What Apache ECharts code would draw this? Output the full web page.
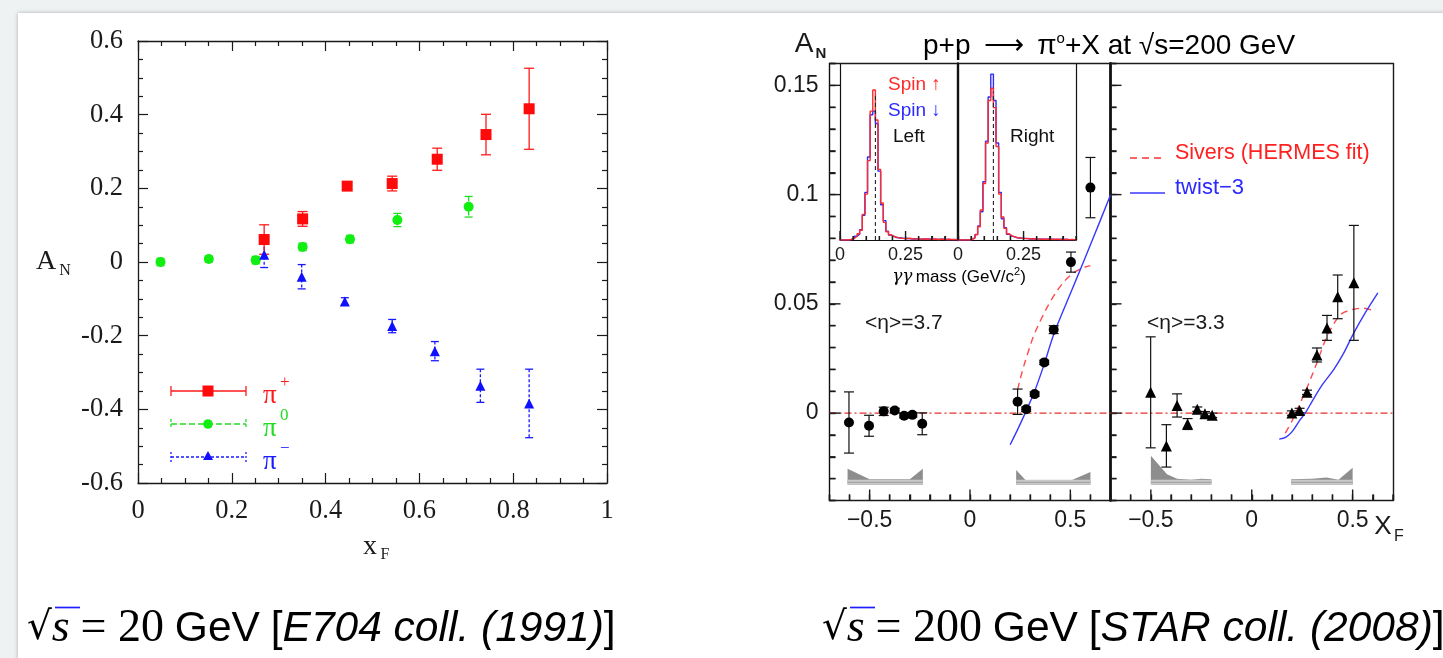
<!DOCTYPE html>
<html>
<head>
<meta charset="utf-8">
<script src="https://cdn.jsdelivr.net/npm/echarts@6/dist/echarts.min.js"></script>
<style>
  html, body { margin: 0; padding: 0; background: #eef2f2; }
  #chart { width: 1443px; height: 658px; }
</style>
</head>
<body>
<div id="chart"></div>
<script>
// ---------- E704, sqrt(s) = 20 GeV : A_N vs x_F ----------
const piPlusXF   = [0.269, 0.351, 0.446, 0.542, 0.638, 0.742, 0.834];
const piPlusAN   = [0.061, 0.117, 0.206, 0.213, 0.279, 0.346, 0.416];
const piPlusErr  = [0.040, 0.020, 0.010, 0.020, 0.030, 0.055, 0.110];

const pi0XF      = [0.048, 0.151, 0.251, 0.351, 0.452, 0.553, 0.705];
const pi0AN      = [0.000, 0.008, 0.005, 0.041, 0.062, 0.114, 0.150];
const pi0Err     = [0.010, 0.008, 0.010, 0.010, 0.010, 0.018, 0.028];

const piMinusXF  = [0.269, 0.349, 0.441, 0.542, 0.633, 0.730, 0.834];
const piMinusAN  = [0.020, -0.040, -0.107, -0.174, -0.242, -0.336, -0.384];
const piMinusErr = [0.035, 0.033, 0.010, 0.018, 0.026, 0.045, 0.093];

// ---------- STAR, sqrt(s) = 200 GeV : pi0 A_N vs x_F ----------
const eta37XF  = [-0.603, -0.503, -0.430, -0.375, -0.328, -0.287, -0.238, 0.237, 0.280, 0.322, 0.370, 0.417, 0.503, 0.600];
const eta37AN  = [-0.0043, -0.0058, 0.0008, 0.0012, -0.0012, -0.0008, -0.0049, 0.0052, 0.0018, 0.0087, 0.0232, 0.0382, 0.0691, 0.1032];
const eta37Err = [0.0140, 0.0048, 0.0019, 0.0010, 0.0010, 0.0010, 0.0050, 0.0058, 0.0010, 0.0010, 0.0010, 0.0018, 0.0046, 0.0138];

const eta33XF  = [-0.501, -0.423, -0.370, -0.318, -0.270, -0.232, -0.196, 0.199, 0.237, 0.274, 0.323, 0.373, 0.426, 0.506];
const eta33AN  = [0.0095, -0.0150, 0.0035, -0.0050, 0.0018, -0.0003, -0.0010, 0.0000, 0.0012, 0.0095, 0.0266, 0.0390, 0.0532, 0.0596];
const eta33Err = [0.0254, 0.0097, 0.0053, 0.0025, 0.0010, 0.0010, 0.0010, 0.0010, 0.0010, 0.0010, 0.0032, 0.0057, 0.0100, 0.0263];

// model curves
const sivers37X = [0.237, 0.26, 0.29, 0.32, 0.36, 0.40, 0.45, 0.50, 0.55, 0.60];
const sivers37Y = [0.0107, 0.019, 0.028, 0.036, 0.044, 0.051, 0.058, 0.063, 0.066, 0.0675];
const twist37X  = [0.20, 0.24, 0.275, 0.32, 0.37, 0.417, 0.483, 0.533, 0.60, 0.70];
const twist37Y  = [-0.0145, -0.007, 0.0, 0.0095, 0.0225, 0.036, 0.051, 0.062, 0.077, 0.0998];
const sivers33X = [0.166, 0.20, 0.24, 0.28, 0.323, 0.373, 0.44, 0.50, 0.556, 0.605];
const sivers33Y = [-0.0092, -0.0035, 0.0046, 0.013, 0.023, 0.035, 0.045, 0.0474, 0.048, 0.0467];
const twist33X  = [0.136, 0.17, 0.20, 0.24, 0.265, 0.30, 0.35, 0.406, 0.45, 0.506, 0.56, 0.625];
const twist33Y  = [-0.0119, -0.0110, -0.0085, -0.003, 0.0, 0.0055, 0.0130, 0.0199, 0.0265, 0.0367, 0.0455, 0.055];

// systematic-uncertainty bands (upper edge; common lower edge)
const bandBase   = -0.0328;
const bandStrip  = -0.0305;
const band37LX   = [-0.61, -0.50, -0.30, -0.235];
const band37LTop = [-0.0255, -0.0303, -0.0303, -0.0255];
const band37RX   = [0.23, 0.28, 0.50, 0.60];
const band37RTop = [-0.0260, -0.0310, -0.0310, -0.0270];
const band33LX   = [-0.50, -0.42, -0.37, -0.30, -0.25, -0.20];
const band33LTop = [-0.0195, -0.0280, -0.0300, -0.0305, -0.0300, -0.0303];
const band33RX   = [0.195, 0.30, 0.37, 0.43, 0.50];
const band33RTop = [-0.0303, -0.0300, -0.0295, -0.0305, -0.0250];

// two-photon invariant mass spectra (relative counts, 0.01 GeV bins from 0.005)
const massBinLow   = 0.005;
const massBinWidth = 0.01;
const pi0Mass      = 0.135;
const leftSpinUp   = [0, 0, 0, 0.004, 0.010, 0.020, 0.035, 0.055, 0.145, 0.26, 0.45, 0.73, 0.85, 0.68, 0.40, 0.21, 0.10, 0.047, 0.030, 0.020,
                      0.016, 0.012, 0.010, 0.009, 0.008, 0.010, 0.007, 0.006, 0.008, 0.005, 0.006, 0.004, 0.007, 0.005, 0.004, 0.006, 0.003, 0.004, 0.005, 0.003,
                      0.004, 0.003, 0.002, 0.003];
const leftSpinDown = [0, 0, 0, 0.003, 0.009, 0.022, 0.033, 0.058, 0.14, 0.27, 0.47, 0.71, 0.73, 0.66, 0.39, 0.20, 0.11, 0.050, 0.028, 0.022,
                      0.014, 0.013, 0.012, 0.008, 0.010, 0.008, 0.006, 0.007, 0.006, 0.005, 0.004, 0.006, 0.005, 0.004, 0.005, 0.004, 0.003, 0.004, 0.004, 0.003,
                      0.003, 0.002, 0.003, 0.002];
const rightSpinUp  = [0, 0, 0, 0, 0.004, 0.012, 0.030, 0.075, 0.17, 0.32, 0.55, 0.79, 0.86, 0.75, 0.53, 0.26, 0.13, 0.066, 0.035, 0.025,
                      0.018, 0.014, 0.012, 0.010, 0.008, 0.009, 0.007, 0.006, 0.007, 0.005, 0.006, 0.004, 0.005, 0.004, 0.005, 0.003, 0.004, 0.004, 0.003, 0.003,
                      0.004, 0.002, 0.003, 0.002];
const rightSpinDown= [0, 0, 0, 0, 0.005, 0.014, 0.032, 0.080, 0.16, 0.33, 0.56, 0.81, 0.94, 0.79, 0.55, 0.27, 0.12, 0.070, 0.033, 0.022,
                      0.019, 0.013, 0.011, 0.009, 0.009, 0.008, 0.006, 0.007, 0.006, 0.005, 0.005, 0.005, 0.004, 0.004, 0.004, 0.004, 0.003, 0.003, 0.004, 0.003,
                      0.003, 0.002, 0.002, 0.002];

// tick positions and labelled ticks
const starXTicks      = [-0.7, -0.6, -0.5, -0.4, -0.3, -0.2, -0.1, 0, 0.1, 0.2, 0.3, 0.4, 0.5, 0.6, 0.7];
const starXTickLabels = [-0.5, 0, 0.5];
const starYTicks      = [-0.04, -0.03, -0.02, -0.01, 0, 0.01, 0.02, 0.03, 0.04, 0.05, 0.06, 0.07, 0.08, 0.09, 0.10, 0.11, 0.12, 0.13, 0.14, 0.15, 0.16];
const starYTickLabels = [0, 0.05, 0.1, 0.15];
const massTicks       = [0, 0.05, 0.10, 0.15, 0.20, 0.25, 0.30, 0.35, 0.40, 0.45];
const massTickLabels  = [0, 0.25];

// ---------- styling ----------
const BLUE = '#1f1fff', TEAL = '#0f8a74';
const SERIF = 'Liberation Serif', SANS = 'Liberation Sans';
const INK = '#1a1a1a', STAR_INK = '#1a1a1a';

const chart = echarts.init(document.getElementById('chart'), null, { renderer: 'canvas' });

const grids = [
  { left: 138,   top: 41,   width: 469,   height: 442 },   // 0 : E704
  { left: 829.5, top: 63.5, width: 281,   height: 437 },   // 1 : STAR <eta>=3.7
  { left: 1110.5,top: 63.5, width: 282.5, height: 437 },   // 2 : STAR <eta>=3.3
  { left: 840,   top: 63.5, width: 118,   height: 176.5 }, // 3 : mass inset, Left
  { left: 958,   top: 63.5, width: 118,   height: 176.5 }  // 4 : mass inset, Right
].map(g => Object.assign({ outerBoundsMode: 'none', containLabel: false }, g));

const xAxes = [], yAxes = [];
function addX(a) { xAxes.push(Object.assign({ type: 'value', splitLine: { show: false }, minorSplitLine: { show: false } }, a)); return xAxes.length - 1; }
function addY(a) { yAxes.push(Object.assign({ type: 'value', splitLine: { show: false }, minorSplitLine: { show: false } }, a)); return yAxes.length - 1; }

// label only the listed values
function only(values, fmt) {
  return v => values.some(u => Math.abs(u - v) < 1e-9) ? (fmt ? fmt(v) : String(v)) : '';
}
const minus = v => String(v).replace('-', '\u2212');
function frameLine(width, color) { return { show: true, onZero: false, lineStyle: { color: color || STAR_INK, width } }; }

// E704 frame: ticks on all four sides, pointing in
function e704Axis(pos, labels, isX) {
  const a = {
    gridIndex: 0, position: pos,
    min: isX ? 0 : -0.6, max: isX ? 1 : 0.6, interval: 0.2,
    axisLine: frameLine(1.3, INK),
    axisTick: { show: true, inside: true, length: 10, lineStyle: { color: INK, width: 1.2 } },
    minorTick: { show: true, splitNumber: 4, length: 5, lineStyle: { color: INK, width: 1.2 } },
    axisLabel: labels ? { show: true, margin: 15, fontFamily: SERIF, fontSize: 26.5, color: INK } : { show: false }
  };
  return isX ? addX(a) : addY(a);
}
const xE = e704Axis('bottom', true, true);
e704Axis('top', false, true);
const yE = e704Axis('left', true, false);
e704Axis('right', false, false);

// STAR panels: y ticks every 0.01 and x ticks every 0.1, pointing in; minor ticks shorter
function starX(g) {
  const ix = addX({
    gridIndex: g, position: 'bottom', min: -0.7, max: 0.7, interval: 0.1,
    axisLine: frameLine(1.4),
    axisTick: { show: true, inside: true, length: 6, lineStyle: { color: STAR_INK, width: 1.4 } },
    axisLabel: { show: true, margin: 9, fontFamily: SANS, fontSize: 23, color: STAR_INK, formatter: only(starXTickLabels, minus) }
  });
  addX({ gridIndex: g, position: 'top', min: -0.7, max: 0.7, axisLine: frameLine(1.4), axisTick: { show: false }, axisLabel: { show: false } });
  return ix;
}
function starY(g, labels, leftWidth, rightWidth) {
  const iy = addY({
    gridIndex: g, position: 'left', min: -0.04, max: 0.16, interval: 0.01,
    axisLine: frameLine(leftWidth, '#111'),
    axisTick: { show: true, inside: true, length: 6, lineStyle: { color: STAR_INK, width: 1.4 } },
    axisLabel: labels ? { show: true, margin: 11, fontFamily: SANS, fontSize: 23, color: STAR_INK, formatter: only(starYTickLabels) } : { show: false }
  });
  if (rightWidth > 0) {
    addY({ gridIndex: g, position: 'right', min: -0.04, max: 0.16, axisLine: frameLine(rightWidth), axisTick: { show: false }, axisLabel: { show: false } });
  }
  return iy;
}
const xL = starX(1), yL = starY(1, true, 1.4, 0);
const xR = starX(2), yR = starY(2, false, 2.8, 1.4);

// invariant-mass insets
function massX(g) {
  return addX({
    gridIndex: g, position: 'bottom', min: 0, max: 0.45, interval: 0.05,
    axisLine: frameLine(1.2, '#111'),
    axisTick: { show: true, inside: true, length: 4, lineStyle: { color: STAR_INK, width: 1.2 } },
    axisLabel: { show: true, margin: 6, fontFamily: SANS, fontSize: 18, color: STAR_INK, formatter: only(massTickLabels) }
  });
}
function massY(g, leftWidth, rightWidth) {
  const iy = addY({
    gridIndex: g, position: 'left', min: 0, max: 1,
    axisLine: leftWidth > 0 ? frameLine(leftWidth, '#111') : { show: false, onZero: false },
    axisTick: { show: false }, axisLabel: { show: false }
  });
  addY({ gridIndex: g, position: 'right', min: 0, max: 1, axisLine: frameLine(rightWidth, '#111'), axisTick: { show: false }, axisLabel: { show: false } });
  return iy;
}
const xML = massX(3), yML = massY(3, 1.2, 2.4);
const xMR = massX(4), yMR = massY(4, 0, 1.2);

// ---------- series builders ----------
function zip(xs, ys) { return xs.map((x, i) => [x, ys[i]]); }
const isMajor = (arr, v) => arr.some(u => Math.abs(u - v) < 1e-9);

// frame ticks of one panel, drawn as one group anchored inside the panel
function frameTicks(xi, yi, anchor, leftEdge, yTicks, yMajor, bottomEdge, xTicks, xMajor, minorLen, majorLen) {
  return {
    type: 'custom', xAxisIndex: xi, yAxisIndex: yi, silent: true, z: 6, clip: false,
    data: [anchor],
    encode: { x: 0, y: 1 },
    renderItem(params, api) {
      const children = [];
      (yTicks || []).forEach(v => {
        const p = api.coord([leftEdge, v]);
        const len = isMajor(yMajor, v) ? majorLen : minorLen;
        children.push({ type: 'line', shape: { x1: p[0], y1: p[1], x2: p[0] + len, y2: p[1] },
                        style: { stroke: STAR_INK, lineWidth: 1.4, fill: null } });
      });
      (xTicks || []).forEach(v => {
        const p = api.coord([v, bottomEdge]);
        const len = isMajor(xMajor, v) ? majorLen : minorLen;
        children.push({ type: 'line', shape: { x1: p[0], y1: p[1], x2: p[0], y2: p[1] - len },
                        style: { stroke: STAR_INK, lineWidth: 1.4, fill: null } });
      });
      return { type: 'group', children };
    }
  };
}
function errorBars(xi, yi, xs, ys, es, color, width, cap, dash) {
  return {
    type: 'custom', xAxisIndex: xi, yAxisIndex: yi, silent: true, z: 3,
    data: xs.map((x, i) => [x, ys[i], es[i]]),
    encode: { x: 0, y: 1 },
    renderItem(params, api) {
      const x = api.value(0), y = api.value(1), e = api.value(2);
      const t = api.coord([x, y + e]), b = api.coord([x, y - e]);
      const st = { stroke: color, lineWidth: width, lineDash: dash || null, fill: null };
      const cs = { stroke: color, lineWidth: width, fill: null };
      return {
        type: 'group', children: [
          { type: 'line', shape: { x1: t[0], y1: t[1], x2: b[0], y2: b[1] }, style: st },
          { type: 'line', shape: { x1: t[0] - cap / 2, y1: t[1], x2: t[0] + cap / 2, y2: t[1] }, style: cs },
          { type: 'line', shape: { x1: b[0] - cap / 2, y1: b[1], x2: b[0] + cap / 2, y2: b[1] }, style: cs }
        ]
      };
    }
  };
}
function markers(xi, yi, xs, ys, symbol, size, color) {
  return {
    type: 'scatter', xAxisIndex: xi, yAxisIndex: yi, silent: true, z: 4,
    symbol, symbolSize: size, itemStyle: { color, opacity: 1 },
    data: zip(xs, ys)
  };
}
function curve(xi, yi, xs, ys, color, dash) {
  return {
    type: 'line', xAxisIndex: xi, yAxisIndex: yi, silent: true, z: 2,
    smooth: 0.35, symbol: 'none', data: zip(xs, ys),
    lineStyle: { color, width: 1.4, type: dash || 'solid' }
  };
}
function zeroLine(xi, yi) {
  return {
    type: 'line', xAxisIndex: xi, yAxisIndex: yi, silent: true, z: 1,
    symbol: 'none', data: [[-0.7, 0], [0.7, 0]],
    lineStyle: { color: '#e8302a', width: 1.3, type: [7, 3, 2, 3] }
  };
}
function band(xi, yi, xs, tops) {
  return {
    type: 'custom', xAxisIndex: xi, yAxisIndex: yi, silent: true, z: 1,
    data: [[xs[0], bandBase]],
    renderItem(params, api) {
      const upper = xs.map((x, i) => api.coord([x, tops[i]]));
      const lower = xs.slice().reverse().map(x => api.coord([x, bandBase]));
      const x0 = xs[0], x1 = xs[xs.length - 1];
      const strip = [api.coord([x0, bandStrip]), api.coord([x1, bandStrip]), api.coord([x1, bandBase]), api.coord([x0, bandBase])];
      const mid = (bandStrip + bandBase) / 2;
      const m0 = api.coord([x0, mid]), m1 = api.coord([x1, mid]);
      return {
        type: 'group', children: [
          { type: 'polygon', shape: { points: upper.concat(lower) }, style: { fill: '#8e8e8e' } },
          { type: 'polygon', shape: { points: strip }, style: { fill: '#c9c9c9' } },
          { type: 'line', shape: { x1: m0[0], y1: m0[1], x2: m1[0], y2: m1[1] }, style: { stroke: '#9a9a9a', lineWidth: 1 } }
        ]
      };
    }
  };
}
function histogram(xi, yi, vals, color) {
  const pts = [[0, 0]];
  vals.forEach((v, i) => pts.push([massBinLow + i * massBinWidth, v]));
  pts.push([massBinLow + vals.length * massBinWidth, 0]);
  pts.push([0.45, 0]);
  return {
    type: 'line', xAxisIndex: xi, yAxisIndex: yi, silent: true, z: 3,
    step: 'end', symbol: 'none', data: pts,
    lineStyle: { color, width: 1.4 }
  };
}
function massLine(xi, yi, top) {
  return {
    type: 'line', xAxisIndex: xi, yAxisIndex: yi, silent: true, z: 5,
    symbol: 'none', data: [[pi0Mass, 0], [pi0Mass, top]],
    lineStyle: { color: '#222', width: 1.1, type: [4, 3] }
  };
}

const series = [
  // E704
  errorBars(xE, yE, pi0XF, pi0AN, pi0Err, '#22dd22', 1.3, 8, [5, 2]),
  errorBars(xE, yE, piMinusXF, piMinusAN, piMinusErr, '#1a1aff', 1.3, 8, [3, 2]),
  errorBars(xE, yE, piPlusXF, piPlusAN, piPlusErr, '#ff1a1a', 1.3, 10, null),
  markers(xE, yE, pi0XF, pi0AN, 'circle', 10, '#11ee11'),
  markers(xE, yE, piMinusXF, piMinusAN, 'triangle', 10, '#1010ff'),
  markers(xE, yE, piPlusXF, piPlusAN, 'rect', 11, '#ff0a0a'),

  // STAR and inset frame ticks (labelled ticks longer)
  frameTicks(xL, yL, [0, 0.05], -0.7, starYTicks, starYTickLabels, -0.04, starXTicks, starXTickLabels, 6, 11),
  frameTicks(xR, yR, [0, 0.05], -0.7, starYTicks, starYTickLabels, -0.04, starXTicks, starXTickLabels, 6, 11),
  frameTicks(xML, yML, [0.2, 0.5], 0, null, [], 0, massTicks, massTickLabels, 4, 9),
  frameTicks(xMR, yMR, [0.2, 0.5], 0, null, [], 0, massTicks, massTickLabels, 4, 9),

  // STAR <eta> = 3.7
  zeroLine(xL, yL),
  band(xL, yL, band37LX, band37LTop),
  band(xL, yL, band37RX, band37RTop),
  curve(xL, yL, sivers37X, sivers37Y, '#ff4a4a', [7, 5]),
  curve(xL, yL, twist37X, twist37Y, '#3838ff'),
  errorBars(xL, yL, eta37XF, eta37AN, eta37Err, '#111', 1.2, 10, null),
  markers(xL, yL, eta37XF, eta37AN, 'circle', 10, '#000'),

  // STAR <eta> = 3.3
  zeroLine(xR, yR),
  band(xR, yR, band33LX, band33LTop),
  band(xR, yR, band33RX, band33RTop),
  curve(xR, yR, sivers33X, sivers33Y, '#ff4a4a', [7, 5]),
  curve(xR, yR, twist33X, twist33Y, '#3838ff'),
  errorBars(xR, yR, eta33XF, eta33AN, eta33Err, '#111', 1.2, 10, null),
  markers(xR, yR, eta33XF, eta33AN, 'triangle', 11, '#000'),

  // gamma-gamma mass spectra
  histogram(xML, yML, leftSpinDown, '#2a2aff'),
  histogram(xML, yML, leftSpinUp, '#ff2a2a'),
  massLine(xML, yML, 0.82),
  histogram(xMR, yMR, rightSpinDown, '#2a2aff'),
  histogram(xMR, yMR, rightSpinUp, '#ff2a2a'),
  massLine(xMR, yMR, 0.84)
];

// ---------- text and legend graphics ----------
function txt(x, y, text, font, color, align) {
  return {
    type: 'text', x, y, z: 20, silent: true,
    style: { text, font, fill: color, align: align || 'left', verticalAlign: 'middle' }
  };
}
function seg(x1, y1, x2, y2, color, width, dash) {
  return { type: 'line', z: 20, silent: true, shape: { x1, y1, x2, y2 }, style: { stroke: color, lineWidth: width, lineDash: dash || null } };
}
function caption(x, energy, coll) {
  return {
    type: 'text', x, y: 629, z: 20, silent: true,
    style: {
      text: '{r|\u221A}{m|s}{sp| }{e|= ' + energy + '}{sp| }{g|GeV}{sp| }{b|[}{i|' + coll + '}{b|]}',
      align: 'left', verticalAlign: 'middle',
      rich: {
        r: { fontFamily: 'DejaVu Serif', fontSize: 39, color: BLUE },
        m: { fontFamily: SERIF, fontStyle: 'italic', fontSize: 46, color: BLUE },
        e: { fontFamily: SERIF, fontSize: 46, color: BLUE },
        g: { fontFamily: SANS, fontSize: 42.5, color: BLUE },
        b: { fontFamily: SANS, fontSize: 42.5, color: TEAL },
        i: { fontFamily: SANS, fontStyle: 'italic', fontSize: 42.5, color: TEAL },
        sp: { fontFamily: SANS, fontSize: 39 }
      }
    }
  };
}

const graphics = [
  // slide panel
  { type: 'rect', z: -10, silent: true, shape: { x: 18, y: 13, width: 1440, height: 660 },
    style: { fill: '#ffffff', shadowBlur: 4, shadowColor: 'rgba(0,0,0,0.28)', shadowOffsetX: 0, shadowOffsetY: 0 } },

  // E704 axis titles
  txt(46, 262, 'A', '28px "Liberation Serif"', INK, 'center'),
  txt(65, 271, 'N', '16px "Liberation Serif"', INK, 'center'),
  txt(370, 547, 'x', '28px "Liberation Serif"', INK, 'center'),
  txt(385, 555, 'F', '16px "Liberation Serif"', INK, 'center'),

  // E704 legend
  seg(171, 391, 246, 391, '#ff1a1a', 1.3), seg(171, 386, 171, 396, '#ff1a1a', 1.3), seg(246, 386, 246, 396, '#ff1a1a', 1.3),
  { type: 'rect', z: 21, silent: true, shape: { x: 202.5, y: 385.5, width: 11, height: 11 }, style: { fill: '#ff0a0a' } },
  seg(171, 424, 246, 424, '#22dd22', 1.3, [6, 3]), seg(171, 419, 171, 429, '#22dd22', 1.3, [3, 2]), seg(246, 419, 246, 429, '#22dd22', 1.3, [3, 2]),
  { type: 'circle', z: 21, silent: true, shape: { cx: 208, cy: 424, r: 4.8 }, style: { fill: '#11ee11' } },
  seg(171, 457, 246, 457, '#1a1aff', 1.3, [3, 2]), seg(171, 452, 171, 462, '#1a1aff', 1.3, [2, 2]), seg(246, 452, 246, 462, '#1a1aff', 1.3, [2, 2]),
  { type: 'polygon', z: 21, silent: true, shape: { points: [[208, 451], [213, 460], [203, 460]] }, style: { fill: '#1010ff' } },
  txt(263, 396, 'π', '27px "Liberation Serif"', '#ff1a1a'),
  txt(280, 383, '+', '17px "Liberation Serif"', '#ff1a1a'),
  txt(263, 429, 'π', '27px "Liberation Serif"', '#22dd22'),
  txt(280, 416, '0', '17px "Liberation Serif"', '#22dd22'),
  txt(263, 462, 'π', '27px "Liberation Serif"', '#1a1aff'),
  txt(280, 449, '\u2212', '17px "Liberation Serif"', '#1a1aff'),

  // STAR axis titles and heading
  txt(804, 44, 'A', '28px "Liberation Sans"', STAR_INK, 'center'),
  txt(821, 54, 'N', 'bold 15px "Liberation Sans"', STAR_INK, 'center'),
  {
    type: 'text', x: 923, y: 46, z: 20, silent: true,
    style: {
      text: '{t|p+p \u2009\u27F6\u2009 \u03C0}{s|o}{t|+X at \u221As=200 GeV}',
      verticalAlign: 'middle', align: 'left',
      rich: {
        t: { fontFamily: SANS, fontSize: 28, color: STAR_INK, lineHeight: 30 },
        s: { fontFamily: SANS, fontSize: 15, color: STAR_INK, lineHeight: 15, verticalAlign: 'top' }
      }
    }
  },
  txt(1383, 527, 'X', '26px "Liberation Sans"', STAR_INK, 'center'),
  txt(1399, 537, 'F', '16px "Liberation Sans"', STAR_INK, 'center'),

  // STAR legend
  seg(1130, 158, 1165, 158, '#ff3030', 1.4, [7, 5]),
  txt(1175, 153, 'Sivers (HERMES fit)', '21.5px "Liberation Sans"', '#ff2020'),
  seg(1130, 193, 1165, 193, '#3838ff', 1.4),
  txt(1175, 188, 'twist\u22123', '22px "Liberation Sans"', '#2a2aff'),

  txt(865, 323, '<\u03B7>=3.7', '21px "Liberation Sans"', STAR_INK),
  txt(1147, 323, '<\u03B7>=3.3', '21px "Liberation Sans"', STAR_INK),

  // inset labels
  txt(888, 85, 'Spin \u2191', '19px "Liberation Sans"', '#ff2a2a'),
  txt(888, 111, 'Spin \u2193', '19px "Liberation Sans"', '#2a2aff'),
  txt(893, 137, 'Left', '19px "Liberation Sans"', '#111'),
  txt(1010, 137, 'Right', '19px "Liberation Sans"', '#111'),
  {
    type: 'text', x: 959, y: 277, z: 20, silent: true,
    style: {
      text: '{g|\u03B3\u03B3} {t|mass (GeV/c}{s|2}{t|)}',
      align: 'center', verticalAlign: 'middle',
      rich: {
        g: { fontFamily: 'DejaVu Serif', fontStyle: 'italic', fontSize: 17, color: STAR_INK, lineHeight: 22 },
        t: { fontFamily: SANS, fontSize: 17, color: STAR_INK, lineHeight: 22 },
        s: { fontFamily: SANS, fontSize: 11, color: STAR_INK, lineHeight: 12, verticalAlign: 'top' }
      }
    }
  },

  // captions
  caption(27, '20', 'E704 coll. (1991)'),
  seg(55, 607.5, 80, 607.5, BLUE, 1.7),
  caption(822, '200', 'STAR coll. (2008)'),
  seg(850, 607.5, 875, 607.5, BLUE, 1.7)
];

chart.setOption({
  animation: false,
  backgroundColor: '#eef2f2',
  grid: grids,
  xAxis: xAxes,
  yAxis: yAxes,
  series,
  graphic: { elements: graphics }
});
</script>
</body>
</html>
